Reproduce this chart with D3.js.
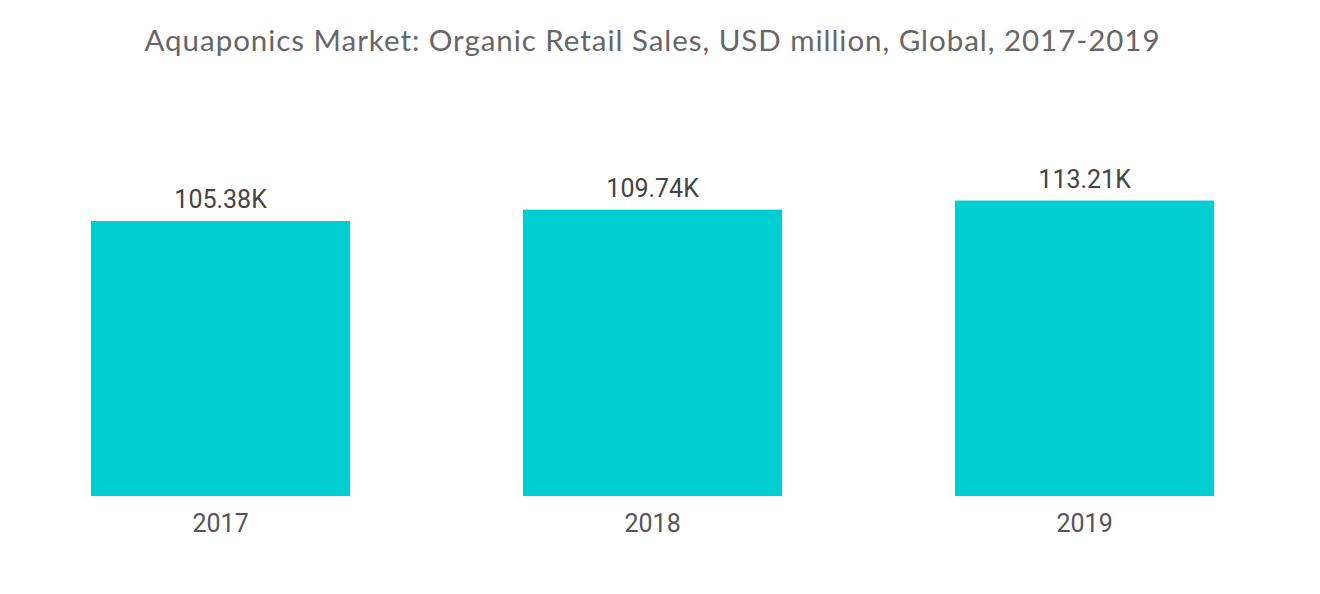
<!DOCTYPE html>
<html><head><meta charset="utf-8">
<script src="https://cdn.jsdelivr.net/npm/d3@7"></script>
<style>body{margin:0;background:#fff;}</style>
</head><body>
<svg id="c" width="1320" height="594"></svg>
<script>
const title = "Aquaponics Market: Organic Retail Sales, USD million, Global, 2017-2019";
const categories = ["2017", "2018", "2019"];
const values = [105.38, 109.74, 113.21];
const valueLabels = ["105.38K", "109.74K", "113.21K"];

const svg = d3.select("#c");
const x = d3.scaleBand().domain(categories).range([4.6, 1300.6]).paddingInner(0.4).paddingOuter(0.2);
const y = d3.scaleLinear().domain([0, 120]).range([496, 496 - 120 * (275 / 105.38)]);

svg.append("text").attr("x", 652).attr("y", 51).attr("text-anchor", "middle")
  .attr("font-family", "Lato, 'Open Sans', sans-serif").attr("font-size", 29.5)
  .attr("textLength", 1015).attr("lengthAdjust", "spacing")
  .attr("fill", "#666").text(title);

const g = svg.append("g");
g.selectAll("rect").data(values).join("rect")
  .attr("x", (d, i) => x(categories[i])).attr("width", x.bandwidth())
  .attr("y", d => y(d)).attr("height", d => y(0) - y(d))
  .attr("fill", "#00CED1");

g.selectAll("text.v").data(values).join("text").attr("class", "v")
  .attr("x", (d, i) => x(categories[i]) + x.bandwidth() / 2)
  .attr("y", d => y(d) - 13).attr("text-anchor", "middle")
  .attr("font-family", "Roboto, sans-serif").attr("font-size", 25)
  .attr("fill", "#444").text((d, i) => valueLabels[i]);

const ax = svg.append("g").attr("transform", "translate(0,496)")
  .call(d3.axisBottom(x).tickSize(0).tickPadding(18));
ax.select(".domain").remove();
ax.selectAll("text").attr("font-family", "Roboto, sans-serif").attr("font-size", 25)
  .attr("fill", "#555");
</script>
</body></html>
